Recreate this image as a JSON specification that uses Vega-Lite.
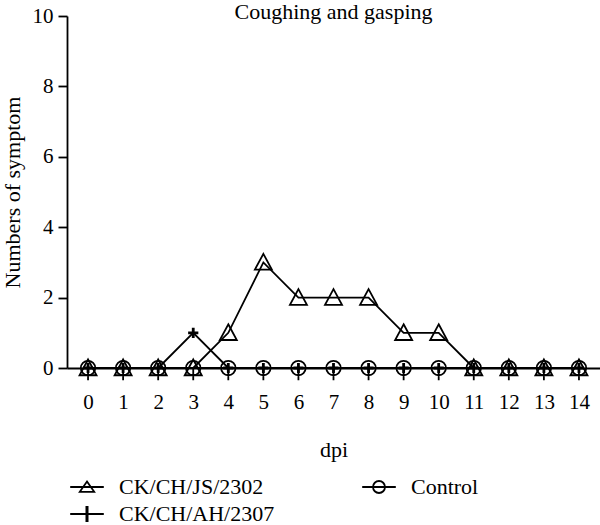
{
  "$schema": "https://vega.github.io/schema/vega-lite/v6.json",
  "autosize": {"type": "none"},
  "padding": {"left": 67, "top": 16, "right": 0, "bottom": 157},
  "width": 533,
  "height": 352,
  "background": "white",
  "title": {
    "text": "Coughing and gasping",
    "font": "Liberation Serif",
    "fontSize": 22,
    "fontWeight": "normal",
    "color": "black",
    "anchor": "middle",
    "frame": "group",
    "offset": -19
  },
  "config": {
    "view": {"stroke": null},
    "font": "Liberation Serif",
    "axis": {
      "grid": false,
      "domainColor": "black",
      "domainWidth": 1.8,
      "tickColor": "black",
      "tickWidth": 1.8,
      "labelColor": "black",
      "titleColor": "black",
      "labelFont": "Liberation Serif",
      "titleFont": "Liberation Serif",
      "labelFontSize": 21,
      "titleFontSize": 22,
      "titleFontWeight": "normal"
    },
    "legend": {
      "labelFont": "Liberation Serif",
      "labelFontSize": 22,
      "labelColor": "black"
    }
  },
  "data": {
    "values": [
      {"series": "CK/CH/JS/2302", "dpi": 0, "count": 0},
      {"series": "CK/CH/JS/2302", "dpi": 1, "count": 0},
      {"series": "CK/CH/JS/2302", "dpi": 2, "count": 0},
      {"series": "CK/CH/JS/2302", "dpi": 3, "count": 0},
      {"series": "CK/CH/JS/2302", "dpi": 4, "count": 1},
      {"series": "CK/CH/JS/2302", "dpi": 5, "count": 3},
      {"series": "CK/CH/JS/2302", "dpi": 6, "count": 2},
      {"series": "CK/CH/JS/2302", "dpi": 7, "count": 2},
      {"series": "CK/CH/JS/2302", "dpi": 8, "count": 2},
      {"series": "CK/CH/JS/2302", "dpi": 9, "count": 1},
      {"series": "CK/CH/JS/2302", "dpi": 10, "count": 1},
      {"series": "CK/CH/JS/2302", "dpi": 11, "count": 0},
      {"series": "CK/CH/JS/2302", "dpi": 12, "count": 0},
      {"series": "CK/CH/JS/2302", "dpi": 13, "count": 0},
      {"series": "CK/CH/JS/2302", "dpi": 14, "count": 0},
      {"series": "CK/CH/AH/2307", "dpi": 0, "count": 0},
      {"series": "CK/CH/AH/2307", "dpi": 1, "count": 0},
      {"series": "CK/CH/AH/2307", "dpi": 2, "count": 0},
      {"series": "CK/CH/AH/2307", "dpi": 3, "count": 1},
      {"series": "CK/CH/AH/2307", "dpi": 4, "count": 0},
      {"series": "CK/CH/AH/2307", "dpi": 5, "count": 0},
      {"series": "CK/CH/AH/2307", "dpi": 6, "count": 0},
      {"series": "CK/CH/AH/2307", "dpi": 7, "count": 0},
      {"series": "CK/CH/AH/2307", "dpi": 8, "count": 0},
      {"series": "CK/CH/AH/2307", "dpi": 9, "count": 0},
      {"series": "CK/CH/AH/2307", "dpi": 10, "count": 0},
      {"series": "CK/CH/AH/2307", "dpi": 11, "count": 0},
      {"series": "CK/CH/AH/2307", "dpi": 12, "count": 0},
      {"series": "CK/CH/AH/2307", "dpi": 13, "count": 0},
      {"series": "CK/CH/AH/2307", "dpi": 14, "count": 0},
      {"series": "Control", "dpi": 0, "count": 0},
      {"series": "Control", "dpi": 1, "count": 0},
      {"series": "Control", "dpi": 2, "count": 0},
      {"series": "Control", "dpi": 3, "count": 0},
      {"series": "Control", "dpi": 4, "count": 0},
      {"series": "Control", "dpi": 5, "count": 0},
      {"series": "Control", "dpi": 6, "count": 0},
      {"series": "Control", "dpi": 7, "count": 0},
      {"series": "Control", "dpi": 8, "count": 0},
      {"series": "Control", "dpi": 9, "count": 0},
      {"series": "Control", "dpi": 10, "count": 0},
      {"series": "Control", "dpi": 11, "count": 0},
      {"series": "Control", "dpi": 12, "count": 0},
      {"series": "Control", "dpi": 13, "count": 0},
      {"series": "Control", "dpi": 14, "count": 0}
    ]
  },
  "encoding": {
    "x": {
      "field": "dpi",
      "type": "quantitative",
      "scale": {"domain": [-0.6, 14.6], "nice": false, "zero": false},
      "axis": {
        "title": "dpi",
        "values": [0, 1, 2, 3, 4, 5, 6, 7, 8, 9, 10, 11, 12, 13, 14],
        "format": "d",
        "ticks": false,
        "tickSize": 0,
        "labelPadding": 23,
        "titlePadding": 27
      }
    },
    "y": {
      "field": "count",
      "type": "quantitative",
      "scale": {"domain": [0, 10], "nice": false},
      "axis": {
        "title": "Numbers of symptom",
        "values": [0, 2, 4, 6, 8, 10],
        "tickSize": 9,
        "labelPadding": 5,
        "titlePadding": 8
      }
    }
  },
  "resolve": {
    "scale": {"shape": "independent"},
    "legend": {"shape": "independent"}
  },
  "layer": [
    {
      "mark": {"type": "line", "color": "black", "strokeWidth": 1.8},
      "encoding": {"detail": {"field": "series"}}
    },
    {
      "mark": {"type": "point", "filled": false, "color": "black", "size": 289, "opacity": 1},
      "encoding": {
        "shape": {
          "field": "series",
          "type": "nominal",
          "scale": {
            "domain": ["CK/CH/JS/2302", "CK/CH/AH/2307", "Control"],
            "range": [
              "M0,-1L1,0.85L-1,0.85Z",
              "M-0.6,0H0.6M0,-0.6V0.6",
              "M0.85,0A0.85,0.85,0,1,1,-0.85,0A0.85,0.85,0,1,1,0.85,0M0,0V1.45"
            ]
          },
          "legend": null
        },
        "strokeWidth": {
          "condition": {"test": "datum.series === 'CK/CH/AH/2307'", "value": 2.8},
          "value": 1.8
        }
      }
    },
    {
      "mark": {"type": "point", "filled": false, "color": "black", "opacity": 0},
      "encoding": {
        "shape": {
          "field": "series",
          "type": "nominal",
          "scale": {
            "domain": ["CK/CH/JS/2302", "CK/CH/AH/2307", "Control"],
            "range": [
              "M-2.8,0H2.8M0,-0.9L1.2,0.8L-1.2,0.8Z",
              "M-2.8,0H2.8M-0.1,-1.35V1.35M0.1,-1.35V1.35",
              "M-2.8,0H2.8M1,0A1,1,0,1,1,-1,0A1,1,0,1,1,1,0"
            ]
          },
          "legend": {
            "title": null,
            "orient": "none",
            "legendX": 9,
            "legendY": 460,
            "columns": 2,
            "padding": 0,
            "columnPadding": 83,
            "rowPadding": 4,
            "symbolSize": 144,
            "labelOffset": 21,
            "symbolOpacity": 1,
            "symbolStrokeColor": "black",
            "symbolFillColor": "transparent",
            "symbolStrokeWidth": 1.8
          }
        }
      }
    }
  ]
}
